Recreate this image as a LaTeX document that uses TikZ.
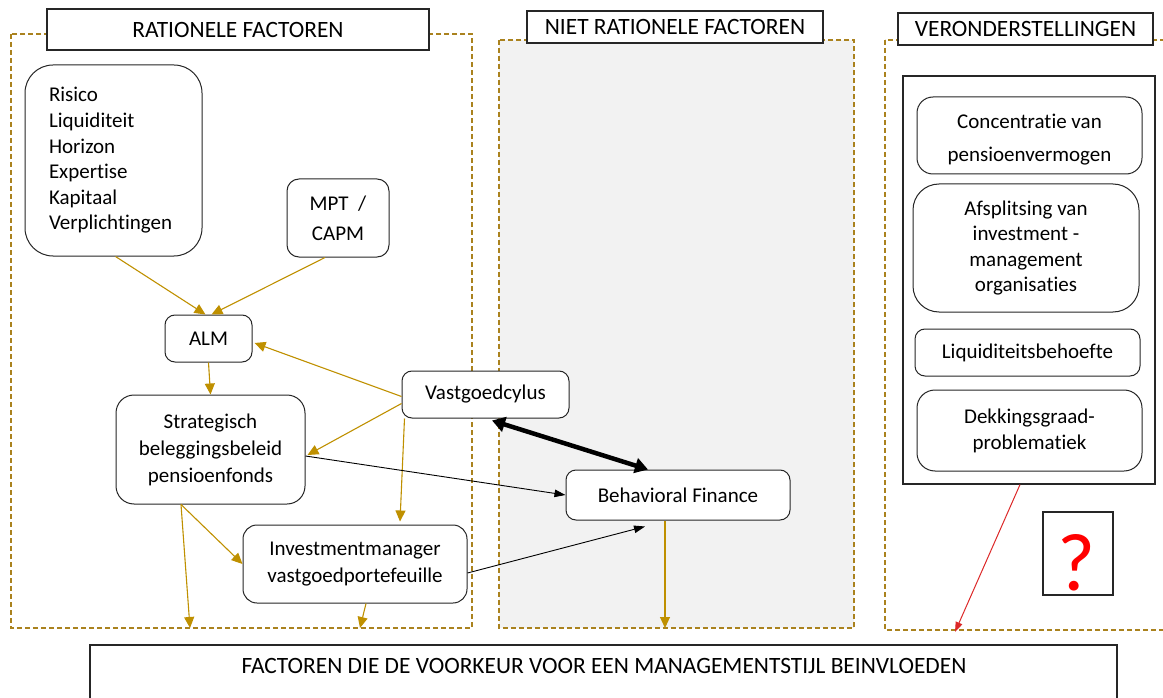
\documentclass[tikz,border=0pt]{standalone}
\usepackage{fontspec}
\setmainfont{Carlito}[Ligatures=NoCommon]
\usetikzlibrary{arrows.meta,calc}
\definecolor{gold}{RGB}{191,144,0}
\definecolor{dashgold}{RGB}{170,130,30}
\definecolor{panelgray}{RGB}{242,242,242}
\definecolor{redarrow}{RGB}{220,40,40}
\begin{document}
\begin{tikzpicture}[x=1pt,y=-1pt,
  box/.style={draw=black!85, line width=1pt, rounded corners=10pt, fill=white, align=center, inner sep=0pt, font=\fontsize{21}{26}\selectfont},
  titlebox/.style={draw=black!85, line width=1.2pt, fill=white, inner sep=0pt, font=\fontsize{23.4}{26}\selectfont},
  frame/.style={draw=dashgold, line width=1.1pt, dash pattern=on 5pt off 3pt},
  garrow/.style={draw=gold, line width=1.1pt, -{Triangle[length=11pt,width=10pt]}, gold},
  karrow/.style={draw=black, line width=0.9pt, -{Triangle[length=11pt,width=7.5pt]}},
]
\useasboundingbox (0,0) rectangle (1163,698);

% dashed frames
\draw[frame] (11,34) rectangle (472,628);
\draw[frame, fill=panelgray] (499,40) rectangle (854,628);
\draw[frame] (885,40) rectangle (1175,630);

% titles
\node[titlebox, minimum width=382pt, minimum height=41pt] (t1) at (238,29.5) {RATIONELE FACTOREN};
\node[titlebox, minimum width=296pt, minimum height=32pt] (t2) at (675,27) {NIET RATIONELE FACTOREN};
\node[titlebox, minimum width=255pt, minimum height=32pt] (t3) at (1025.5,29) {VERONDERSTELLINGEN};

% rational factors
\node[box, rounded corners=28pt, minimum width=177pt, minimum height=191pt, text width=129pt, align=left, font=\fontsize{21}{25.6}\selectfont] (risk) at (113.5,160.5)
  {Risico\\Liquiditeit\\Horizon\\Expertise\\Kapitaal\\Verplichtingen};
\node[box, rounded corners=12pt, minimum width=102pt, minimum height=78pt, font=\fontsize{21}{30}\selectfont] (mpt) at (338,218) {MPT~~/\\CAPM};
\node[box, minimum width=87pt, minimum height=47pt] (alm) at (208.5,338.5) {ALM};
\node[box, rounded corners=18pt, minimum width=189pt, minimum height=109pt, font=\fontsize{21}{27}\selectfont] (strat) at (210.5,449.5) {Strategisch\\beleggingsbeleid\\pensioenfonds};
\node[box, rounded corners=14pt, minimum width=224pt, minimum height=78pt, font=\fontsize{21}{27}\selectfont] (invest) at (355,564) {Investmentmanager\\vastgoedportefeuille};
\node[box, minimum width=167pt, minimum height=47pt] (vast) at (485.5,394.5) {Vastgoedcylus};
\node[box, minimum width=224pt, minimum height=50pt] (behav) at (678,495) {Behavioral Finance};

% assumptions
\node[draw=black!85, line width=1.2pt, fill=white, minimum width=252pt, minimum height=408pt, inner sep=0pt] (inner) at (1029,280) {};
\node[box, rounded corners=16pt, minimum width=225pt, minimum height=77pt, font=\fontsize{21}{33}\selectfont] (conc) at (1029.5,135.5) {\rule{0pt}{23pt}Concentratie van\\pensioenvermogen};
\node[box, rounded corners=26pt, minimum width=226pt, minimum height=128pt, font=\fontsize{21}{25.5}\selectfont] (afspl) at (1026,248) {Afsplitsing van\\investment -\\management\\organisaties};
\node[box, minimum width=225pt, minimum height=47pt] (liq) at (1027.5,352.5) {Liquiditeitsbehoefte};
\node[box, rounded corners=18pt, minimum width=225pt, minimum height=81pt] (dekk) at (1029.5,430.5) {Dekkingsgraad-\\problematiek};
\node[draw=black!85, line width=1.2pt, fill=white, minimum width=70pt, minimum height=83pt, inner sep=0pt] (qbox) at (1078,553.5) {};
\node[text=red, inner sep=0pt, font=\fontsize{82}{82}\selectfont] (q) at (1076,563) {?};

% bottom box
\draw[draw=black!85, line width=1.2pt] (90,645) rectangle (1117,720);
\node[font=\fontsize{23.4}{26}\selectfont, inner sep=0pt] (bottom) at (604,666) {FACTOREN DIE DE VOORKEUR VOOR EEN MANAGEMENTSTIJL BEINVLOEDEN};

% free ends on the frame bottoms
\coordinate (b1) at (190,628);
\coordinate (b2) at (360,628);
\coordinate (b3) at (665,628);
\coordinate (b4) at (955,632);

% gold arrows
\draw[garrow] ([xshift=2pt]risk.south) -- ([xshift=-3pt]alm.north);
\draw[garrow] ([xshift=-13pt]mpt.south) -- ([xshift=3pt]alm.north);
\draw[garrow] (alm.south) -- (strat.north);
\draw[garrow] ([yshift=-2pt]vast.west) -- ([xshift=2pt,yshift=-4.5pt]alm.east);
\draw[garrow] ([yshift=-9pt]vast.west) -- ([xshift=2pt,yshift=-5.5pt]strat.east);
\draw[garrow] ([xshift=-81pt]vast.south) -- ([xshift=45pt,yshift=3pt]invest.north);
\draw[garrow] ([xshift=-29.5pt]strat.south) -- (b1);
\draw[garrow] ([xshift=-29.5pt]strat.south) -- (invest.west);
\draw[garrow] ([xshift=11pt]invest.south) -- (b2);
\draw[garrow] ([xshift=-13pt]behav.south) -- (b3);

% black arrows
\draw[karrow] ([yshift=-6.5pt]strat.east) -- (behav.west);
\draw[karrow] ([yshift=-9pt]invest.east) -- ([xshift=-33pt,yshift=-6pt]behav.south);
\draw[line width=4.5pt, {Triangle[length=13pt,width=15pt]}-{Triangle[length=13pt,width=15pt]}] ([xshift=6.5pt,yshift=-2pt]vast.south) -- ([xshift=-30pt]behav.north);

% red arrow
\draw[redarrow, line width=1pt, -{Triangle[length=10pt,width=7pt]}] ([xshift=-9pt]inner.south) -- (b4);
\end{tikzpicture}
\end{document}
